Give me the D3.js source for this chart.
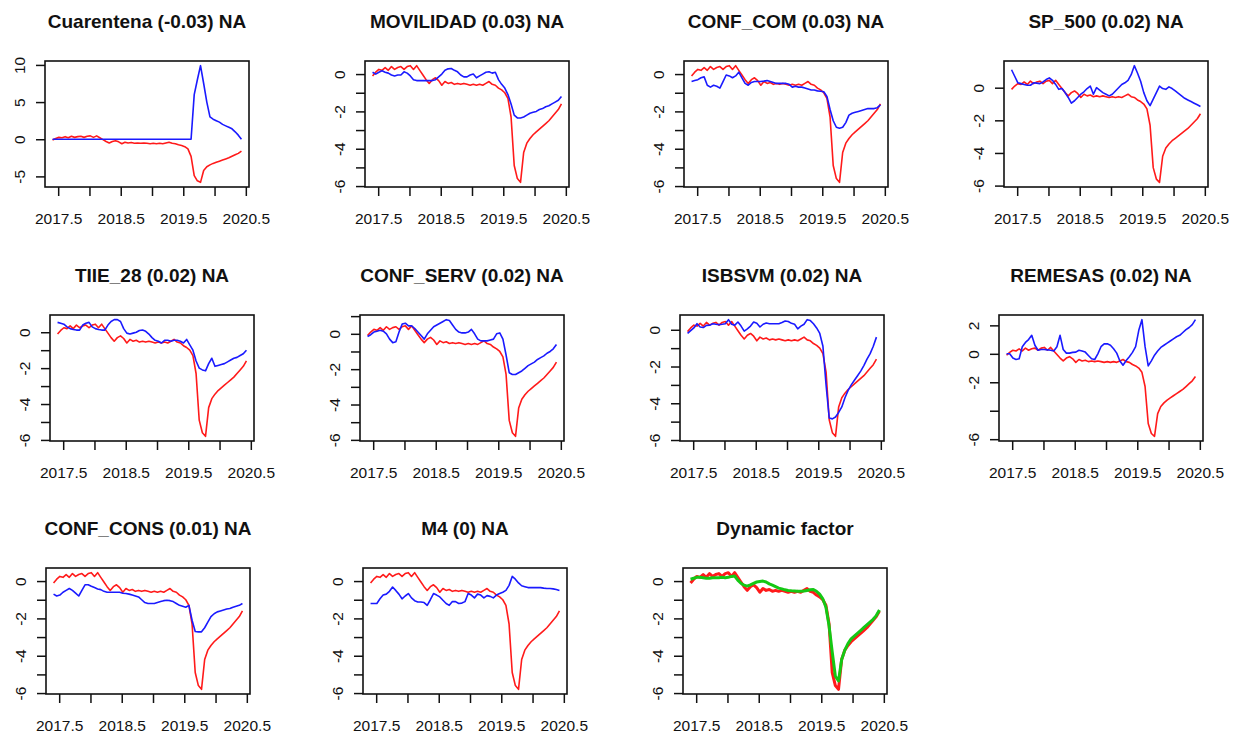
<!DOCTYPE html>
<html>
<head>
<meta charset="utf-8">
<script src="https://cdn.jsdelivr.net/npm/d3@7"></script>
<style>
  body { margin: 0; background: #fff; }
  svg { display: block; }
  text { font-family: "Liberation Sans", Arial, sans-serif; fill: #111; }
</style>
</head>
<body>
<svg id="chart" width="1239" height="736"></svg>
<script>
// ---- time index (regular sampling) ----
const tStart = 2017.41, tEnd = 2020.43, nObs = 61;

// ---- common dynamic factor (red) ----
const factor = [
  -0.1, 0.1, 0.25, 0.2, 0.35, 0.2, 0.4, 0.25, 0.35, 0.4,
  0.25, 0.4, 0.45, 0.25, 0.45, 0.2, -0.05, -0.3, -0.5, -0.3,
  -0.2, -0.35, -0.6, -0.4, -0.5, -0.45, -0.55, -0.5, -0.55, -0.5,
  -0.55, -0.6, -0.55, -0.6, -0.55, -0.6, -0.5, -0.4, -0.55, -0.6,
  -0.75, -0.85, -1.0, -1.3, -2.3, -4.9, -5.6, -5.8, -4.2, -3.7,
  -3.45, -3.25, -3.1, -2.95, -2.8, -2.65, -2.5, -2.3, -2.1, -1.9,
  -1.6
];

// ---- smoothed factor (green, last panel) ----
const factorSmooth = [
  0.1, 0.15, 0.2, 0.2, 0.18, 0.15, 0.15, 0.18, 0.18, 0.18,
  0.2, 0.18, 0.2, 0.25, 0.27, 0.05, -0.12, -0.22, -0.27, -0.2,
  -0.12, -0.05, -0.02, 0.0, -0.05, -0.15, -0.22, -0.3, -0.38, -0.42,
  -0.47, -0.5, -0.52, -0.53, -0.54, -0.54, -0.53, -0.5, -0.47, -0.45,
  -0.55, -0.7, -0.95, -1.4, -2.4, -3.8, -5.1, -5.35, -4.2, -3.7,
  -3.35, -3.1, -2.95, -2.8, -2.65, -2.5, -2.35, -2.2, -2.05, -1.85,
  -1.55
];

// ---- standardized indicators (blue) ----
const cuarentena = [
  0, 0, 0, 0, 0, 0, 0, 0, 0, 0,
  0, 0, 0, 0, 0, 0, 0, 0, 0, 0,
  0, 0, 0, 0, 0, 0, 0, 0, 0, 0,
  0, 0, 0, 0, 0, 0, 0, 0, 0, 0,
  0, 0, 0, 0, 0.0, 6.0, 8.0, 9.9, 7.5, 5.0,
  3.0, 2.7, 2.5, 2.3, 2.0, 1.8, 1.6, 1.4, 1.0, 0.55,
  0.0
];
const movilidad = [
  0.1, 0.0, 0.1, 0.18, 0.1, 0.05, -0.05, -0.1, -0.05, -0.05,
  0.12, 0.05, -0.1, -0.3, -0.35, -0.35, -0.35, -0.35, -0.35, -0.35,
  -0.3, -0.15, 0.0, 0.2, 0.28, 0.3, 0.2, 0.12, -0.05, -0.15,
  -0.15, -0.05, 0.0, -0.2, -0.1, 0.0, 0.1, 0.12, 0.05, 0.1,
  -0.3, -0.55, -0.75, -1.1, -1.6, -2.2, -2.35, -2.35, -2.3, -2.2,
  -2.1, -2.05, -2.0, -1.9, -1.85, -1.75, -1.7, -1.6, -1.5, -1.4,
  -1.2
];
const confCom = [
  -0.4, -0.35, -0.3, -0.2, -0.15, -0.6, -0.7, -0.6, -0.65, -0.75,
  -0.4, -0.05, -0.1, -0.2, -0.1, 0.1, -0.2, -0.5, -0.6, -0.45,
  -0.4, -0.4, -0.4, -0.38, -0.35, -0.4, -0.45, -0.5, -0.5, -0.5,
  -0.5, -0.55, -0.7, -0.65, -0.7, -0.7, -0.75, -0.8, -0.85, -0.85,
  -0.9, -0.92, -0.95, -1.2, -1.9, -2.5, -2.85, -2.9, -2.85, -2.6,
  -2.2, -2.1, -2.05, -2.0, -1.95, -1.9, -1.85, -1.85, -1.85, -1.8,
  -1.65
];
const sp500 = [
  1.1, 0.7, 0.3, 0.25, 0.2, 0.15, 0.15, 0.3, 0.28, 0.25,
  0.35, 0.5, 0.6, 0.45, 0.2, -0.1, -0.05, -0.3, -0.6, -0.95,
  -0.8, -0.6, -0.4, -0.25, -0.05, 0.1, -0.4, 0.0, -0.15, -0.3,
  -0.4, -0.5, -0.4, -0.2, 0.0, 0.2, 0.3, 0.45, 0.8, 1.35,
  0.9, 0.4, -0.3, -0.8, -1.1, -0.7, -0.3, 0.1, -0.05, -0.1,
  0.05, -0.05, -0.2, -0.35, -0.5, -0.65, -0.75, -0.85, -0.95, -1.05,
  -1.15
];
const tiie28 = [
  0.55, 0.5, 0.45, 0.3, 0.2, 0.15, 0.12, 0.12, 0.4, 0.5,
  0.55, 0.3, 0.2, 0.15, 0.12, 0.12, 0.4, 0.6, 0.7, 0.7,
  0.6, 0.2, -0.05, -0.1, -0.05, 0.0, 0.1, 0.12, 0.05, -0.1,
  -0.3, -0.45, -0.5, -0.6, -0.45, -0.45, -0.5, -0.45, -0.45, -0.5,
  -0.6, -0.4, -0.7, -1.0, -1.6, -2.0, -2.1, -2.15, -1.75, -1.45,
  -1.9, -1.85, -1.8, -1.75, -1.65, -1.55, -1.45, -1.4, -1.3, -1.2,
  -1.0
];
const confServ = [
  -0.15, -0.05, 0.1, 0.15, 0.2, 0.15, 0.0, -0.3, -0.5, -0.45,
  0.1, 0.55, 0.6, 0.45, 0.45, 0.3, 0.1, -0.1, -0.3, 0.0,
  0.2, 0.4, 0.5, 0.6, 0.7, 0.8, 0.75, 0.5, 0.25, 0.1,
  0.05, 0.05, 0.1, 0.25, 0.0, -0.3, -0.4, -0.4, -0.4, -0.35,
  -0.3, 0.0, 0.05, -0.3, -1.2, -2.2, -2.3, -2.3, -2.2, -2.1,
  -1.95, -1.8, -1.7, -1.6, -1.45, -1.35, -1.25, -1.1, -1.0, -0.85,
  -0.6
];
const isbsvm = [
  -0.2, -0.05, 0.1, 0.33, 0.15, 0.12, 0.24, 0.25, 0.33, 0.3,
  0.28, 0.3, 0.33, 0.55, 0.3, 0.25, 0.42, 0.2, -0.07, 0.05,
  0.2, 0.42, 0.35, 0.15, 0.3, 0.37, 0.33, 0.33, 0.33, 0.33,
  0.4, 0.48, 0.45, 0.35, 0.3, 0.05, 0.2, 0.3, 0.55, 0.5,
  0.33, 0.1, -0.2, -0.9, -3.0, -4.8, -4.85, -4.75, -4.5, -4.2,
  -3.7, -3.3, -3.0, -2.75, -2.5, -2.25, -1.95, -1.6, -1.3, -0.9,
  -0.4
];
const remesas = [
  0.0, 0.0, -0.3, -0.4, -0.35, 0.5, 0.8, 1.0, 1.3, 0.6,
  0.25, 0.3, 0.3, 0.28, 0.25, 0.2, 0.5, 1.3, 0.3, 0.05,
  0.05, 0.1, 0.12, 0.25, 0.2, 0.12, -0.12, -0.35, -0.4, 0.0,
  0.5, 0.7, 0.7, 0.6, 0.35, 0.05, -0.5, -0.8, -0.47, -0.2,
  0.1, 0.5, 1.65, 2.4, 0.5, -0.85, -0.5, -0.1, 0.2, 0.45,
  0.6, 0.75, 0.9, 1.05, 1.2, 1.3, 1.5, 1.7, 1.85, 2.05,
  2.4
];
const confCons = [
  -0.7, -0.8, -0.75, -0.6, -0.5, -0.4, -0.5, -0.65, -0.8, -0.5,
  -0.2, -0.2, -0.28, -0.35, -0.42, -0.46, -0.55, -0.6, -0.6, -0.6,
  -0.6, -0.6, -0.65, -0.67, -0.7, -0.75, -0.8, -0.85, -1.0, -1.15,
  -1.2, -1.2, -1.2, -1.15, -1.1, -1.05, -1.03, -1.05, -1.1, -1.2,
  -1.3, -1.35, -1.4, -1.3, -2.1, -2.7, -2.72, -2.72, -2.5, -2.2,
  -1.9, -1.75, -1.65, -1.6, -1.55, -1.5, -1.47, -1.4, -1.35, -1.3,
  -1.2
];
const m4 = [
  -1.2, -1.2, -1.2, -0.95, -0.75, -0.7, -0.55, -0.32, -0.5, -0.7,
  -0.95, -0.8, -0.67, -0.9, -1.05, -1.12, -1.12, -1.15, -1.3, -1.0,
  -0.67, -0.75, -0.85, -1.03, -1.2, -1.3, -1.1, -1.1, -1.2, -1.18,
  -1.1, -0.67, -0.75, -0.9, -0.7, -0.75, -0.9, -0.78, -0.82, -0.9,
  -0.75, -0.67, -0.6, -0.5, -0.23, 0.25, 0.1, -0.1, -0.25, -0.3,
  -0.35, -0.35, -0.35, -0.35, -0.35, -0.38, -0.4, -0.4, -0.42, -0.45,
  -0.5
];

// ---- panel titles ----
const titles = [
  "Cuarentena (-0.03) NA", "MOVILIDAD (0.03) NA", "CONF_COM (0.03) NA", "SP_500 (0.02) NA",
  "TIIE_28 (0.02) NA", "CONF_SERV (0.02) NA", "ISBSVM (0.02) NA", "REMESAS (0.02) NA",
  "CONF_CONS (0.01) NA", "M4 (0) NA", "Dynamic factor"
];

// ---- axis ticks ----
const xTicks = [2017.5, 2018, 2018.5, 2019, 2019.5, 2020, 2020.5];
const xTickLabels = [2017.5, 2018.5, 2019.5, 2020.5];
const yTicksUnit = [-6, -5, -4, -3, -2, -1, 0];
const yTicksUnitUp = [-6, -5, -4, -3, -2, -1, 0, 1];
const yLabelsEven = [-6, -4, -2, 0];
const yTicksCuarentena = [-5, 0, 5, 10];
const yTicksSp500 = [-6, -4, -2, 0];
const yTicksRemesas = [-6, -4, -2, 0, 2];
const yLabelsRemesas = [-6, -2, 0, 2];

// ---- panel specs ----
const panels = [
  { title: titles[0], series: cuarentena, yTicks: yTicksCuarentena, yLabels: yTicksCuarentena },
  { title: titles[1], series: movilidad, yTicks: yTicksUnit, yLabels: yLabelsEven },
  { title: titles[2], series: confCom, yTicks: yTicksUnit, yLabels: yLabelsEven },
  { title: titles[3], series: sp500, yTicks: yTicksSp500, yLabels: yTicksSp500 },
  { title: titles[4], series: tiie28, yTicks: yTicksUnit, yLabels: yLabelsEven },
  { title: titles[5], series: confServ, yTicks: yTicksUnitUp, yLabels: yLabelsEven },
  { title: titles[6], series: isbsvm, yTicks: yTicksUnit, yLabels: yLabelsEven },
  { title: titles[7], series: remesas, yTicks: yTicksRemesas, yLabels: yLabelsRemesas },
  { title: titles[8], series: confCons, yTicks: yTicksUnit, yLabels: yLabelsEven },
  { title: titles[9], series: m4, yTicks: yTicksUnit, yLabels: yLabelsEven },
  { title: titles[10], series: factorSmooth, yTicks: yTicksUnit, yLabels: yLabelsEven, dynamic: true }
];

// ---- layout: plot-region boxes ----
const boxLefts = [[45, 365, 684, 1004], [50, 360, 680, 999], [46, 363, 683]];
const boxTops = [61, 315, 568];
const boxW = 204, boxH = 126;

const svg = d3.select("#chart");
const times = d3.range(nObs).map(i => tStart + i * (tEnd - tStart) / (nObs - 1));
const tSpan = tEnd - tStart;

panels.forEach((p, k) => {
  const row = Math.floor(k / 4), col = k % 4;
  const left = boxLefts[row][col], top = boxTops[row];
  const g = svg.append("g");

  const x = d3.scaleLinear()
    .domain([tStart - 0.04 * tSpan, tEnd + 0.04 * tSpan])
    .range([left, left + boxW]);

  const [lo, hi] = d3.extent(factor.concat(p.series));
  const pad = 0.04 * (hi - lo);
  const y = d3.scaleLinear().domain([lo - pad, hi + pad]).range([top + boxH, top]);

  // title
  g.append("text")
    .attr("x", left + boxW / 2).attr("y", top - 33)
    .attr("text-anchor", "middle")
    .style("font-size", "19px").style("font-weight", "bold")
    .text(p.title);

  const line = d3.line().x((d, i) => x(times[i])).y(d => y(d));

  // factor (red) underneath, indicator on top
  g.append("path").datum(factor)
    .attr("d", line).attr("fill", "none")
    .attr("stroke", "#ff1a1a").attr("stroke-width", p.dynamic ? 3 : 1.6)
    .attr("stroke-linejoin", "round");
  g.append("path").datum(p.series)
    .attr("d", line).attr("fill", "none")
    .attr("stroke", p.dynamic ? "#14c814" : "#1a1aff")
    .attr("stroke-width", p.dynamic ? 3 : 1.6)
    .attr("stroke-linejoin", "round");

  // x axis
  const xAxis = d3.axisBottom(x)
    .tickValues(xTicks)
    .tickSize(9).tickSizeOuter(0).tickPadding(17)
    .tickFormat(d => xTickLabels.includes(d) ? d3.format(".1f")(d) : "");
  const gx = g.append("g").attr("transform", `translate(0,${top + boxH})`).call(xAxis);
  gx.select(".domain").remove();
  gx.selectAll(".tick line").attr("stroke", "#111").attr("stroke-width", 1.5);
  gx.selectAll(".tick text").style("font-size", "15.5px").attr("fill", "#111");

  // y axis with rotated labels
  const yAxis = d3.axisLeft(y)
    .tickValues(p.yTicks)
    .tickSize(9).tickSizeOuter(0)
    .tickFormat(d => p.yLabels.includes(d) ? String(d) : "");
  const gy = g.append("g").attr("transform", `translate(${left},0)`).call(yAxis);
  gy.select(".domain").remove();
  gy.selectAll(".tick line").attr("stroke", "#111").attr("stroke-width", 1.5);
  gy.selectAll(".tick text")
    .attr("transform", "rotate(-90)")
    .attr("x", 0).attr("y", -20).attr("dy", 0)
    .attr("text-anchor", "middle")
    .style("font-size", "15.5px").attr("fill", "#111");

  // plot box
  g.append("rect")
    .attr("x", left).attr("y", top).attr("width", boxW).attr("height", boxH)
    .attr("fill", "none").attr("stroke", "#111").attr("stroke-width", 1.6);
});
</script>
</body>
</html>
